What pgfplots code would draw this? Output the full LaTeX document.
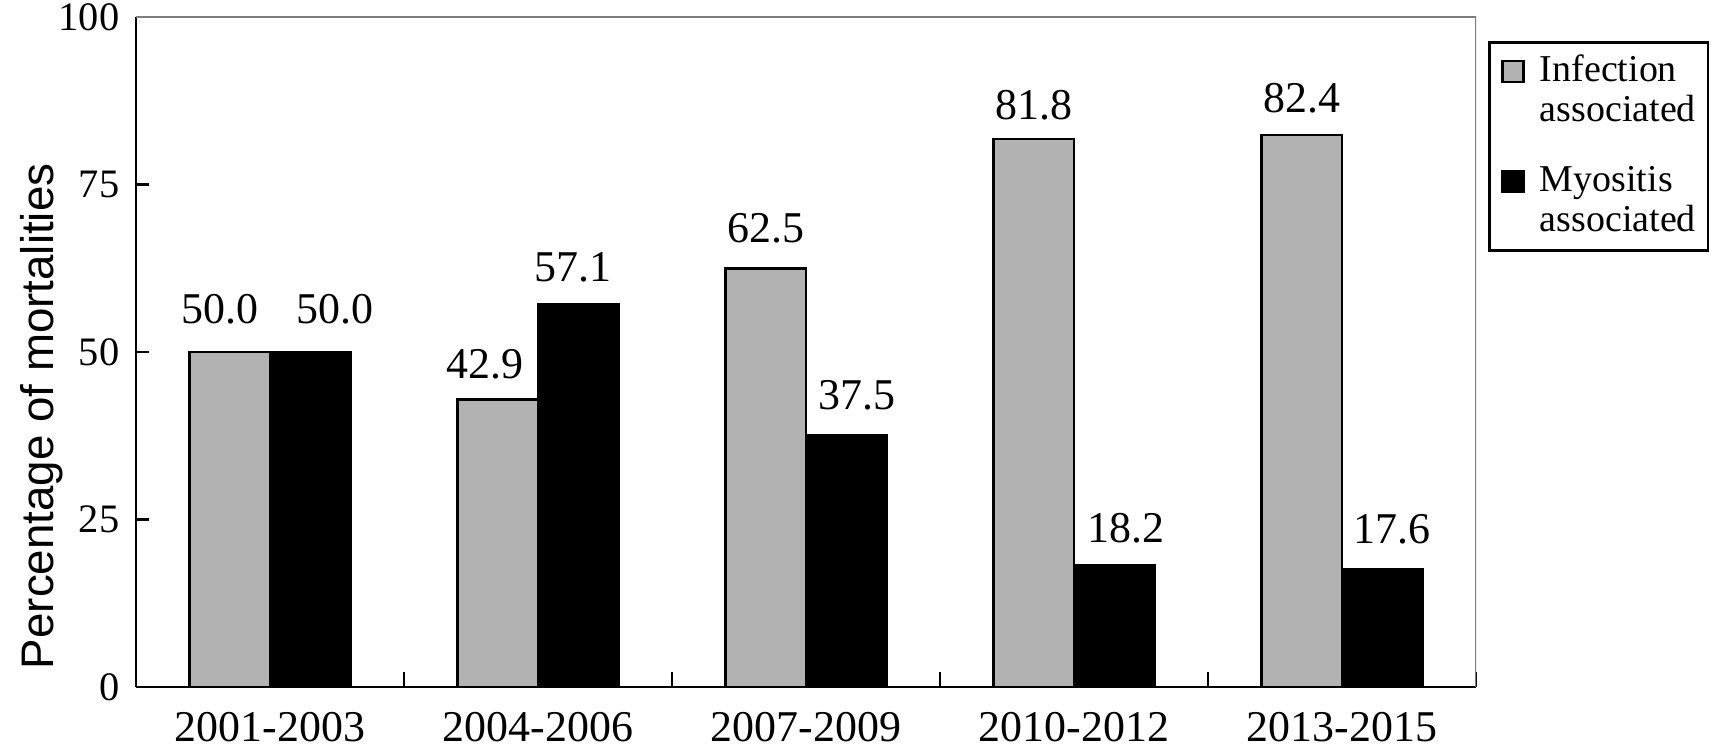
\documentclass[border=0pt]{standalone}
\usepackage{fontspec}
\setmainfont{Liberation Serif}
\setsansfont{Liberation Sans}
\usepackage{pgfplots}
\usepackage{pgfplotstable}
\pgfplotsset{compat=1.18}
\definecolor{barGray}{RGB}{178,178,178}
\definecolor{frameGray}{RGB}{125,125,125}

% dx, dy: label offsets (cm)
\pgfplotstableread{
x y dx dy
0 50.0 -0.10 0.27
1 42.9 -0.13 0.19
2 62.5 0 0.24
3 81.8 0 0.17
4 82.4 0 0.20
}\infection
\pgfplotstableread{
x y dx dy
0 50.0 0.25 0.27
1 57.1 -0.05 0.21
2 37.5 0.11 0.24
3 18.2 0.12 0.21
4 17.6 0.10 0.24
}\myositis

\begin{document}
\begin{tikzpicture}
\useasboundingbox (0,0) rectangle (17.11,7.53);
\begin{axis}[
  at={(1.36cm,0.66cm)}, anchor=south west,
  scale only axis, width=13.4cm, height=6.7cm,
  xmin=-0.5, xmax=4.5, ymin=0, ymax=100,
  ybar=0pt, bar width=0.3,
  axis x line*=bottom, axis y line*=left,
  axis line style={line width=0.8pt, black, -},
  /pgf/number format/assume math mode=true,
  tick align=inside,
  ytick={0,25,50,75,100},
  xtick={0,1,2,3,4},
  xticklabels={2001-2003,2004-2006,2007-2009,2010-2012,2013-2015},
  major x tick style={draw=none},
  minor xtick={0.5,1.5,2.5,3.5,4.5},
  minor tick length=0.15cm,
  major tick length=0.13cm,
  tick style={line width=0.8pt, black},
  yticklabel style={inner sep=0pt, xshift=-0.16cm, font=\fontsize{11.5}{13}\selectfont},
  xticklabel style={inner sep=0pt, yshift=-0.25cm, font=\fontsize{12.5}{14}\selectfont},
  ylabel={Percentage of mortalities},
  ylabel style={at={(rel axis cs:0,0.404)}, anchor=north, inner sep=0pt, yshift=1.16cm, font=\sffamily\fontsize{13}{15}\selectfont},
  legend cell align=left,
  legend style={at={(rel axis cs:1.009,0.9642)}, anchor=north west, draw=black, line width=0.8pt,
    font=\fontsize{10.8}{11.6}\selectfont, row sep=0pt, column sep=0.15cm,
    inner xsep=0.12cm, inner ysep=0.09cm,
    nodes={inner sep=0pt, text height=0.30cm, text depth=0.10cm}},
]
\addplot[fill=barGray, draw=black, line width=0.75pt,
  point meta=y, visualization depends on={\thisrow{dx} \as \dx},
  visualization depends on={\thisrow{dy} \as \dy},
  nodes near coords={\pgfmathprintnumber[fixed,fixed zerofill,precision=1]{\pgfplotspointmeta}},
  nodes near coords style={anchor=south, inner sep=0pt, yshift=\dy cm, xshift=\dx cm, font=\fontsize{12.5}{14}\selectfont, black},
  legend image code/.code={\draw[fill=barGray, draw=black, line width=0.7pt] (0cm,-0.105cm) rectangle (0.21cm,0.105cm);}]
  table[x=x, y=y]{\infection};
\addlegendentry{Infection}
\addlegendimage{empty legend}
\addlegendentry[text depth=0.40cm]{associated}
\addplot[fill=black, draw=black, line width=0.75pt,
  point meta=y, visualization depends on={\thisrow{dx} \as \dx},
  visualization depends on={\thisrow{dy} \as \dy},
  nodes near coords={\pgfmathprintnumber[fixed,fixed zerofill,precision=1]{\pgfplotspointmeta}},
  nodes near coords style={anchor=south, inner sep=0pt, yshift=\dy cm, xshift=\dx cm, font=\fontsize{12.5}{14}\selectfont, black},
  legend image code/.code={\draw[fill=black, draw=black, line width=0.7pt] (0cm,-0.105cm) rectangle (0.21cm,0.105cm);}]
  table[x=x, y=y]{\myositis};
\addlegendentry{Myositis}
\addlegendimage{empty legend}
\addlegendentry{associated}
\draw[frameGray, line width=0.6pt] (rel axis cs:0,1) -- (rel axis cs:1,1) -- (rel axis cs:1,0);
\end{axis}
\end{tikzpicture}
\end{document}
